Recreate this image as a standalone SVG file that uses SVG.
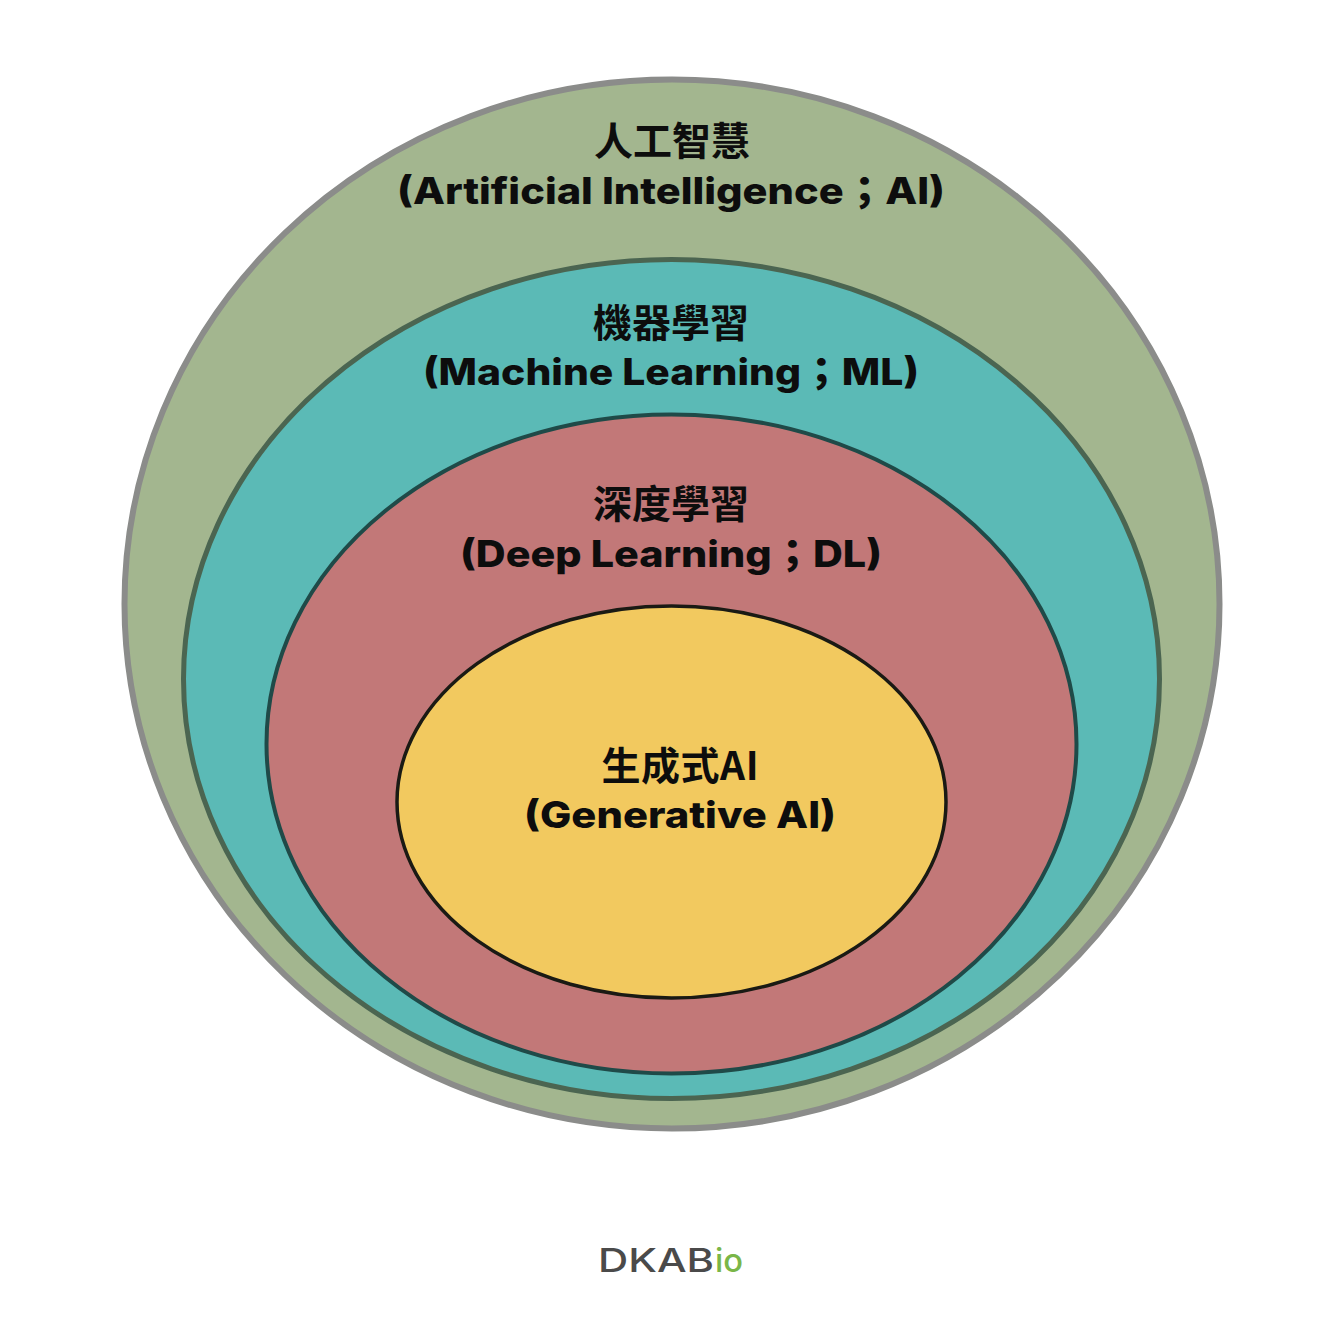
<svg xmlns="http://www.w3.org/2000/svg" width="1344" height="1328" viewBox="0 0 1344 1328">
<style>
.l{font-family:"Inter","Noto Sans CJK TC",sans-serif;font-weight:800;font-size:37px;fill:#0d0d0d;text-anchor:middle}
.c{font-family:"Noto Sans CJK TC",sans-serif;font-weight:700;font-size:39px;fill:#0d0d0d;text-anchor:middle}
.logo{font-family:"Inter",sans-serif;font-size:32px;font-weight:500}
</style>
<rect width="1344" height="1328" fill="#fff"/>
<g id="ai"><ellipse cx="672" cy="604" rx="547.5" ry="524.5" fill="#a3b68f" stroke="#8b8c8a" stroke-width="6"/>
<text class="c" x="672" y="155">人工智慧</text>
<text class="l" x="671" y="204" textLength="548" lengthAdjust="spacingAndGlyphs">(Artificial Intelligence；AI)</text></g>
<g id="ml"><ellipse cx="671.5" cy="679" rx="488" ry="419.5" fill="#5bbab6" stroke="#4b6551" stroke-width="5"/>
<text class="c" x="671" y="337">機器學習</text>
<text class="l" x="671" y="385" textLength="496" lengthAdjust="spacingAndGlyphs">(Machine Learning；ML)</text></g>
<g id="dl"><ellipse cx="671.5" cy="744" rx="405" ry="329.5" fill="#c27878" stroke="#1f4a48" stroke-width="4"/>
<text class="c" x="671" y="518">深度學習</text>
<text class="l" x="671" y="567" textLength="422" lengthAdjust="spacingAndGlyphs">(Deep Learning；DL)</text></g>
<g id="genai"><ellipse cx="671.5" cy="802" rx="274.5" ry="196" fill="#f2c95f" stroke="#1a1a14" stroke-width="3.5"/>
<text class="c" x="680" y="780" textLength="157">生成式AI</text>
<text class="l" x="680" y="828" textLength="312" lengthAdjust="spacingAndGlyphs">(Generative AI)</text></g>
<g id="logo"><text class="logo" x="598" y="1272" fill="#4a4a4a" textLength="116" lengthAdjust="spacingAndGlyphs">DKAB</text>
<text class="logo" x="715" y="1272" fill="#7ab648" textLength="28" lengthAdjust="spacingAndGlyphs">io</text></g>
</svg>
